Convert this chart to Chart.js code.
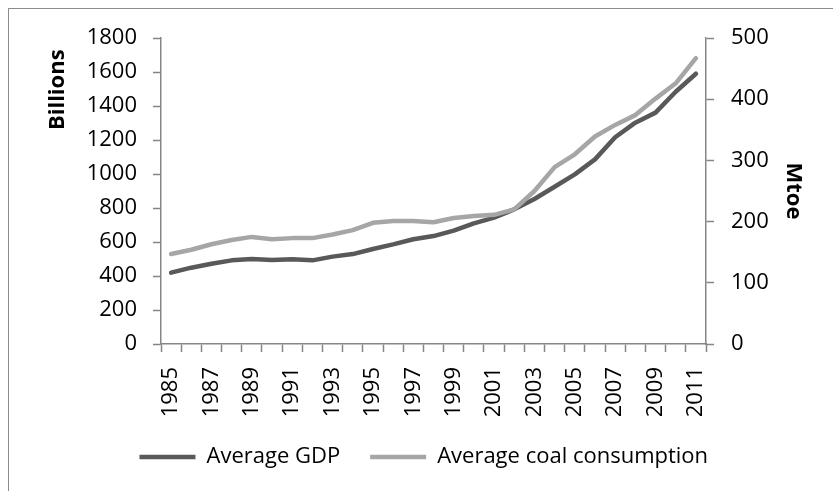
<!DOCTYPE html>
<html>
<head>
<meta charset="utf-8">
<script src="https://cdn.jsdelivr.net/npm/chart.js"></script>
<style>
  html, body { margin: 0; padding: 0; background: #fff; overflow: hidden; }
  #frame {
    position: absolute; left: 8px; top: 8px; width: 900px; height: 600px;
    border-left: 1.5px solid #8c8c8c; border-top: 1.5px solid #8c8c8c;
  }
  #chart { position: absolute; left: 0; top: 0; }
</style>
</head>
<body>
<div id="frame"></div>
<canvas id="chart" width="833" height="491"></canvas>
<script>
// Values
const years = ['1985', '1986', '1987', '1988', '1989', '1990', '1991', '1992', '1993', '1994',
  '1995', '1996', '1997', '1998', '1999', '2000', '2001', '2002', '2003', '2004',
  '2005', '2006', '2007', '2008', '2009', '2010', '2011'];
const gdp = [420, 449, 472, 492, 500, 494, 498, 492, 514, 529,
  559, 586, 616, 635, 667, 710, 743, 792, 853, 925,
  998, 1086, 1216, 1302, 1361, 1484, 1590];
const coal = [147, 154, 163, 170, 175, 171, 173, 173, 179, 186,
  198, 201, 201, 199, 206, 209, 211, 220, 250, 289,
  310, 339, 358, 374, 401, 426, 467];
const leftTicks = [0, 200, 400, 600, 800, 1000, 1200, 1400, 1600, 1800];
const rightTicks = [0, 100, 200, 300, 400, 500];

const axisGrey = '#868686';
const font = { family: "'Open Sans', sans-serif", size: 22 };
const titleFont = { family: "'Open Sans', sans-serif", size: 22, weight: 'bold' };

new Chart(document.getElementById('chart'), {
  type: 'line',
  data: {
    labels: years,
    datasets: [{
      label: 'Average GDP',
      data: gdp,
      yAxisID: 'y',
      borderColor: '#595959',
      backgroundColor: '#595959',
      borderWidth: 4.5,
      borderCapStyle: 'round',
      borderJoinStyle: 'round',
      pointRadius: 0,
      tension: 0,
      order: 1
    }, {
      label: 'Average coal consumption',
      data: coal,
      yAxisID: 'y1',
      borderColor: '#a6a6a6',
      backgroundColor: '#a6a6a6',
      borderWidth: 4.5,
      borderCapStyle: 'round',
      borderJoinStyle: 'round',
      pointRadius: 0,
      tension: 0,
      order: 0
    }]
  },
  options: {
    responsive: false,
    animation: false,
    layout: { padding: { left: 26, top: 38, right: 0, bottom: 13 } },
    plugins: {
      tooltip: { enabled: false },
      legend: {
        position: 'bottom',
        labels: {
          usePointStyle: true,
          pointStyle: 'line',
          pointStyleWidth: 56,
          padding: 30,
          color: '#000',
          font: font,
          sort: (a, b) => a.datasetIndex - b.datasetIndex,
          // a bit of extra room after the first entry, like the original
          generateLabels: function (chart) {
            const items = Chart.defaults.plugins.legend.labels.generateLabels(chart);
            items[0].text = items[0].text + '  ';
            return items;
          }
        }
      }
    },
    scales: {
      x: {
        type: 'category',
        offset: true,
        grid: { offset: true, drawOnChartArea: false, tickLength: 8, tickColor: axisGrey, tickWidth: 1.5 },
        border: { color: axisGrey, width: 1.5 },
        ticks: {
          autoSkip: false,
          minRotation: 90,
          maxRotation: 90,
          padding: 15,
          color: '#000',
          font: font,
          callback: function (val, i) { return i % 2 === 0 ? years[i] : ''; }
        },
        afterFit: function (scale) { scale.height = 72; }
      },
      y: {
        position: 'left',
        min: 0,
        max: 1800,
        afterBuildTicks: function (scale) { scale.ticks = leftTicks.map(v => ({ value: v })); },
        grid: { drawOnChartArea: false, tickLength: 8, tickColor: axisGrey, tickWidth: 1.5 },
        border: { color: axisGrey, width: 1.5 },
        ticks: { padding: 16, color: '#000', font: font, callback: v => String(v) },
        title: {
          display: true,
          text: 'Billions  ',
          align: 'end',
          color: '#000',
          font: titleFont,
          padding: { top: 19, bottom: 0 }
        },
        afterFit: function (scale) { scale.width = 135; }
      },
      y1: {
        position: 'right',
        min: 0,
        max: 500,
        afterBuildTicks: function (scale) { scale.ticks = rightTicks.map(v => ({ value: v })); },
        grid: { drawOnChartArea: false, tickLength: 8, tickColor: axisGrey, tickWidth: 1.5 },
        border: { color: axisGrey, width: 1.5 },
        ticks: { padding: 17, color: '#000', font: font, callback: v => String(v) },
        title: {
          display: true,
          text: 'Mtoe',
          color: '#000',
          font: titleFont,
          padding: { top: 27, bottom: 0 }
        },
        afterFit: function (scale) { scale.width = 127; }
      }
    }
  }
});
</script>
</body>
</html>
